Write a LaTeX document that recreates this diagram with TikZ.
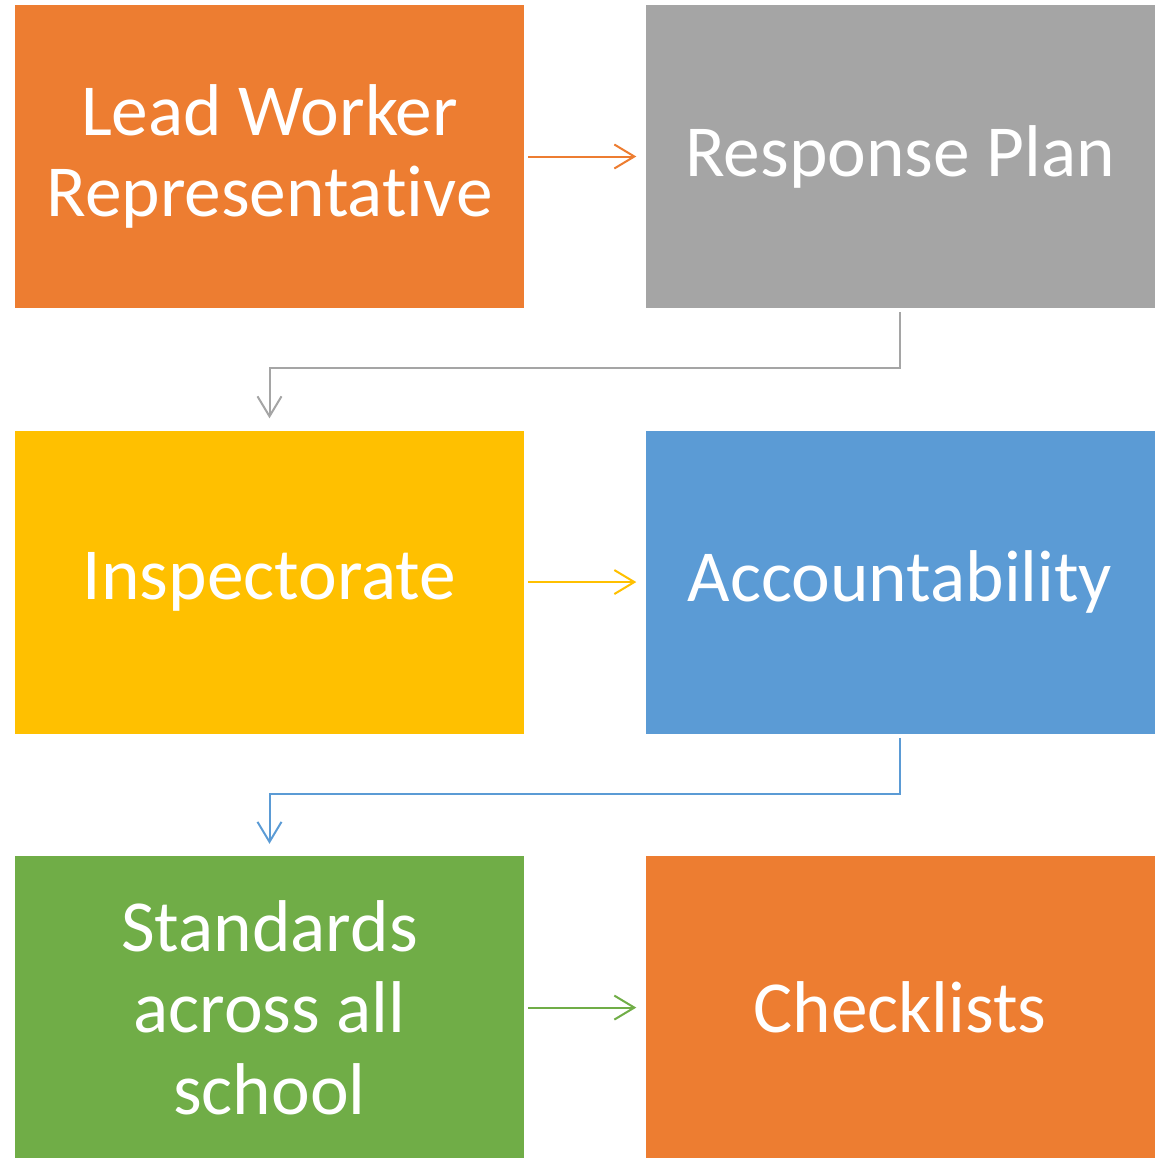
\documentclass[tikz,border=0pt]{standalone}
\usepackage{fontspec}
\setmainfont{Carlito}[RawFeature={-liga;-dlig;-clig;-calt;-rlig;-hlig}]
\usepackage{xcolor}
\usetikzlibrary{arrows.meta,positioning}

\definecolor{cOrange}{HTML}{ED7D31}
\definecolor{cGray}{HTML}{A5A5A5}
\definecolor{cYellow}{HTML}{FFC000}
\definecolor{cBlue}{HTML}{5B9BD5}
\definecolor{cGreen}{HTML}{70AD47}

\begin{document}
\begin{tikzpicture}[node distance=90.75pt]
            \tikzstyle{block} = [rectangle, inner sep=0pt, minimum width=381.75pt, minimum height=227.25pt, align=center, text=white, font=\fontsize{55}{61}\selectfont]
            \tikzstyle{arrow} = [line width=1.5pt, -{Straight Barb[length=15pt,width=18pt,line width=1.5pt]}]

            \useasboundingbox (0,0) rectangle (869.25pt,-867.75pt);

            \node [block, fill=cOrange] (lead) at (202.125pt,-117.375pt) {Lead Worker\\Representative};
            \node [block, fill=cGray, right=of lead] (resp) {Response Plan};
            \node [block, fill=cYellow, below=91.5pt of lead] (insp) {Inspectorate};
            \node [block, fill=cBlue, right=of insp] (acct) {Accountability};
            \node [block, fill=cGreen, below=91.5pt of insp] (std) {Standards\\across all\\school};
            \node [block, fill=cOrange, right=of std] (check) {Checklists};

            \draw [arrow, cOrange, shorten <=3pt, shorten >=6.75pt] (lead) -- (resp);
            \draw [arrow, cYellow, shorten <=3pt, shorten >=6.75pt] (insp) -- (acct);
            \draw [arrow, cGreen, shorten <=3pt, shorten >=6.75pt] (std) -- (check);

            \draw [arrow, cGray, shorten <=3pt, shorten >=9pt] (resp.south) -- ++(0,-45pt) -| (insp.north);
            \draw [arrow, cBlue, shorten <=3pt, shorten >=9pt] (acct.south) -- ++(0,-45pt) -| (std.north);
        \end{tikzpicture}
\end{document}
